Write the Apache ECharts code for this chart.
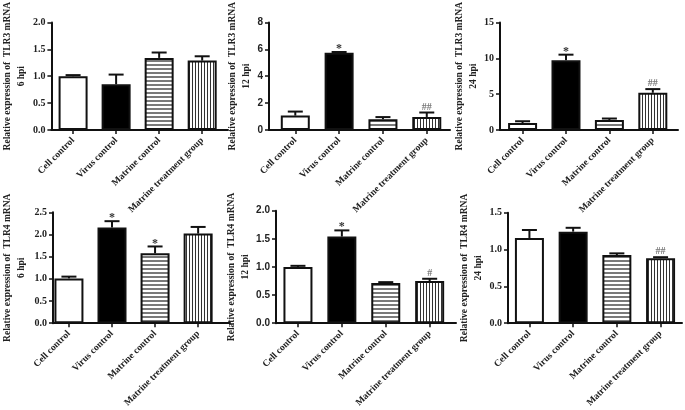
<!DOCTYPE html>
<html><head><meta charset="utf-8">
<script src="https://cdn.jsdelivr.net/npm/echarts@6/dist/echarts.min.js"></script>
<style>html,body{margin:0;padding:0;background:#fff}#c{width:685px;height:410px}</style>
</head><body><div id="c"></div>
<script>
// ---- data ----
const categories = ['Cell control', 'Virus control', 'Matrine control', 'Matrine treatment group'];
const tlr3_6h = [1.00, 0.85, 1.34, 1.29];
const tlr3_6h_err = [1.02, 1.03, 1.44, 1.37];
const tlr3_6h_marks = ['', '', '', ''];
const tlr3_12h = [1.07, 5.74, 0.80, 0.97];
const tlr3_12h_err = [1.37, 5.80, 0.96, 1.30];
const tlr3_12h_marks = ['', '*', '', '##'];
const tlr3_24h = [0.97, 9.73, 1.38, 5.19];
const tlr3_24h_err = [1.22, 10.50, 1.60, 5.70];
const tlr3_24h_marks = ['', '*', '', '##'];
const tlr4_6h = [1.01, 2.16, 1.575, 2.02];
const tlr4_6h_err = [1.05, 2.30, 1.73, 2.17];
const tlr4_6h_marks = ['', '*', '*', ''];
const tlr4_12h = [1.00, 1.54, 0.716, 0.75];
const tlr4_12h_err = [1.02, 1.65, 0.73, 0.79];
const tlr4_12h_marks = ['', '*', '', '#'];
const tlr4_24h = [1.157, 1.243, 0.926, 0.883];
const tlr4_24h_err = [1.265, 1.295, 0.948, 0.896];
const tlr4_24h_marks = ['', '', '', '##'];
const yTicks6h3 = {max: 2, interval: 0.5, dec: 1};
const yTicks12h3 = {max: 8, interval: 2, dec: 0};
const yTicks24h3 = {max: 15, interval: 5, dec: 0};
const yTicks6h4 = {max: 2.5, interval: 0.5, dec: 1};
const yTicks12h4 = {max: 2, interval: 0.5, dec: 1};
const yTicks24h4 = {max: 1.5, interval: 0.5, dec: 1};

// ---- patterns ----
function makePattern(w, h, draw) {
  const c = document.createElement('canvas');
  c.width = w; c.height = h;
  const g = c.getContext('2d');
  g.fillStyle = '#fff'; g.fillRect(0, 0, w, h);
  draw(g);
  return {image: c, repeat: 'repeat'};
}
const hStripe = makePattern(4, 4, g => { g.fillStyle = '#7a7a7a'; g.fillRect(0, 0, 4, 2); });
const vStripe = makePattern(3, 3, g => { g.fillStyle = '#333'; g.fillRect(0, 0, 1, 3); });
const fills = ['#ffffff', '#000000', hStripe, vStripe];

const SERIF = '"Liberation Serif","Times New Roman",serif';
const SANS = '"Liberation Sans",Arial,sans-serif';

const panels = [
  {vals: tlr3_6h, err: tlr3_6h_err, marks: tlr3_6h_marks, y: yTicks6h3, name: 'Relative expression of  TLR3 mRNA\n6 hpi',
   grid: {left: 49, top: 15, width: 179, height: 115}, xr: [-0.504, 3.6], gap: 13, tf: SERIF},
  {vals: tlr3_12h, err: tlr3_12h_err, marks: tlr3_12h_marks, y: yTicks12h3, name: 'Relative expression of  TLR3 mRNA\n12 hpi',
   grid: {left: 269, top: 13.3, width: 181, height: 116.7}, xr: [-0.6, 3.53], gap: 7, tf: SANS},
  {vals: tlr3_24h, err: tlr3_24h_err, marks: tlr3_24h_marks, y: yTicks24h3, name: 'Relative expression of  TLR3 mRNA\n24 hpi',
   grid: {left: 500, top: 14.3, width: 178, height: 115.7}, xr: [-0.52, 3.58], gap: 8, tf: SERIF},
  {vals: tlr4_6h, err: tlr4_6h_err, marks: tlr4_6h_marks, y: yTicks6h4, name: 'Relative expression of  TLR4 mRNA\n6 hpi',
   grid: {left: 50, top: 212.3, width: 180, height: 115.4}, xr: [-0.37, 3.74], gap: 24, tf: SERIF},
  {vals: tlr4_12h, err: tlr4_12h_err, marks: tlr4_12h_marks, y: yTicks12h4, name: 'Relative expression of  TLR4 mRNA\n12 hpi',
   grid: {left: 276, top: 210.7, width: 180, height: 116.3}, xr: [-0.5, 3.6], gap: 16, tf: SANS},
  {vals: tlr4_24h, err: tlr4_24h_err, marks: tlr4_24h_marks, y: yTicks24h4, name: 'Relative expression of  TLR4 mRNA\n24 hpi',
   grid: {left: 508, top: 212.7, width: 174, height: 115}, xr: [-0.49, 3.49], gap: 19, tf: SERIF}
];

const grid = [], xAxis = [], yAxis = [], series = [];
panels.forEach((p, k) => {
  grid.push(Object.assign({containLabel: false}, p.grid));
  xAxis.push({
    type: 'value', gridIndex: k, min: p.xr[0], max: p.xr[1], position: 'bottom',
    axisLine: {show: true, onZero: false, lineStyle: {color: '#111', width: 2}},
    axisTick: {show: true, customValues: [0, 1, 2, 3], length: 4, lineStyle: {color: '#111', width: 1.5}},
    axisLabel: {customValues: [0, 1, 2, 3], rotate: 45, margin: 9, formatter: v => categories[Math.round(v)] || '',
      fontFamily: SERIF, fontWeight: 'bold', fontSize: 9.5, color: '#222'},
    splitLine: {show: false}
  });
  yAxis.push({
    type: 'value', gridIndex: k, min: 0, max: p.y.max, interval: p.y.interval, position: 'left',
    name: p.name, nameLocation: 'middle', nameGap: p.gap,
    nameTextStyle: {fontFamily: SERIF, fontWeight: 'bold', fontSize: 9.5, lineHeight: 14, color: '#222'},
    axisLine: {show: true, onZero: false, lineStyle: {color: '#111', width: 2}},
    axisTick: {show: true, length: 4, lineStyle: {color: '#111', width: 1.5}},
    axisLabel: {margin: 6, formatter: v => v.toFixed(p.y.dec), fontFamily: p.tf, fontWeight: 'bold', fontSize: 10, color: '#222'},
    splitLine: {show: false}
  });
  series.push({
    type: 'bar', xAxisIndex: k, yAxisIndex: k, barWidth: 29,
    data: p.vals.map((v, i) => ({value: [i, v], itemStyle: {color: fills[i]}})),
    itemStyle: {borderColor: '#111', borderWidth: 2},
    emphasis: {disabled: true}, silent: true, animation: false
  });
  series.push({
    type: 'custom', xAxisIndex: k, yAxisIndex: k, z: 5, silent: true, animation: false, clip: false,
    data: p.vals.map((v, i) => [i, v, p.err[i]]),
    renderItem: (params, api) => {
      const i = api.value(0);
      const a = api.coord([i, api.value(1)]);
      const b = api.coord([i, api.value(2)]);
      const st = {stroke: '#111', lineWidth: 2};
      const children = [
        {type: 'line', shape: {x1: a[0], y1: a[1], x2: b[0], y2: b[1]}, style: st},
        {type: 'line', shape: {x1: b[0] - 7.5, y1: b[1], x2: b[0] + 7.5, y2: b[1]}, style: st}
      ];
      const m = p.marks[params.dataIndex];
      if (m) {
        const star = m === '*';
        children.push({type: 'text', style: {text: m, x: b[0], y: b[1] - (star ? 3 : 5.5), align: 'center', verticalAlign: 'middle',
          fontFamily: SERIF, fontWeight: 'bold', fontSize: star ? 12 : 10, fill: star ? '#333' : '#777'}});
      }
      return {type: 'group', children};
    }
  });
});

const chart = echarts.init(document.getElementById('c'), null, {renderer: 'canvas'});
chart.setOption({backgroundColor: '#fff', animation: false, grid, xAxis, yAxis, series});
</script>
</body></html>
